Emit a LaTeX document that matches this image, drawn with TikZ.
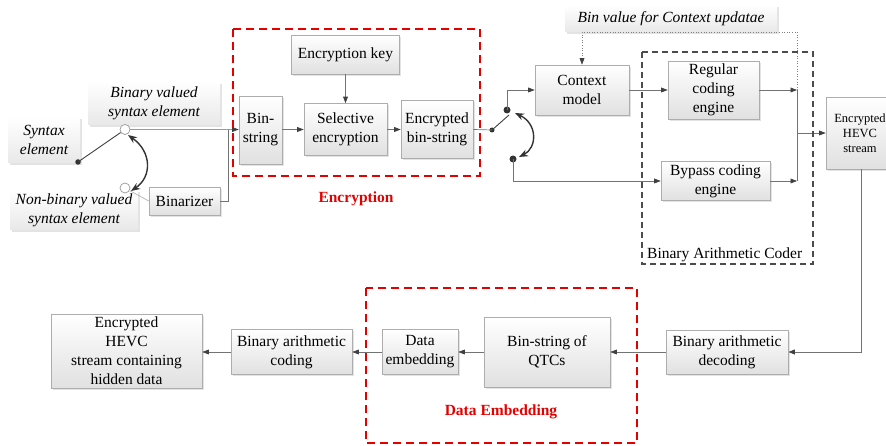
\documentclass[tikz,border=0pt]{standalone}
\usepackage{fontspec}
\setmainfont{Liberation Serif}
\usetikzlibrary{arrows.meta,shadows}

\begin{document}
\begin{tikzpicture}[x=1pt,y=-1pt,
  font=\fontsize{15.5}{19}\selectfont,
  sz/.style 2 args={minimum width=#1pt, minimum height=#2pt},
  shade/.style={drop shadow={shadow xshift=1.6pt, shadow yshift=-1.6pt, opacity=0.2, fill=black!55}},
  blk/.style={draw=black!32, line width=0.6pt, top color=white, bottom color=black!12,
    align=center, inner sep=0pt, shade},
  tag/.style={top color=white, bottom color=black!9, align=center, inner sep=0pt,
    font=\fontsize{15.5}{19}\selectfont\itshape, shade},
  tip/.style={-{Triangle[length=6.5pt,width=4.8pt,color=black!75]}},
  wire/.style={draw=black!55, line width=0.7pt},
  arr/.style={wire, tip},
  dots/.style={draw=black!50, line width=0.6pt, dotted},
  swing/.style={draw=black!80, line width=1.4pt,
    {Stealth[length=9pt,width=7pt]}-{Stealth[length=9pt,width=7pt]}},
  pin/.style={circle, fill=black!80, inner sep=0pt, minimum size=#1pt},
  ring/.style={circle, draw=black!40, line width=0.7pt, fill=white, inner sep=0pt, minimum size=10pt},
  redframe/.style={draw=red!90!black, line width=1.5pt, dash pattern=on 8pt off 5pt},
  grayframe/.style={draw=black!70, line width=1.1pt, dash pattern=on 6pt off 4pt},
  redlabel/.style={text=red!90!black, font=\fontsize{15.5}{19}\selectfont\bfseries}
]
\useasboundingbox (0,0) rectangle (886,446);

% ---------- syntax element inputs ----------
\node[tag, sz={72}{46}] (synt) at (44,140) {Syntax\\element};
\node[tag, sz={132}{43}] (binv) at (154,103.5) {Binary valued\\syntax element};
\node[tag, sz={128}{40}] (nonb) at (74,210) {Non-binary valued\\syntax element};
\node[blk, sz={71}{28}] (binz) at (184.5,201) {Binarizer};

\node[pin=5.5] (sdot) at (78,162) {};
\node[ring] (cb) at (125,129.5) {};
\node[ring] (cn) at (125,188) {};
\coordinate (ca) at (128,135);
\coordinate (cz) at (131,191);
\coordinate (j1) at (228,129.5);

\draw[draw=black!75, line width=0.9pt] (sdot.center) -- (cb);
\draw[swing] (ca) .. controls (152,152) and (152,177) .. (cz);
\draw[wire, draw=black!30] (cn) -- (binz.west);

% ---------- encryption stage ----------
\node[blk, sz={43}{68}] (bins) at (260.5,130) {Bin-\\string};
\node[blk, sz={83}{52}] (selc) at (345.5,129.5) {Selective\\encryption};
\node[blk, sz={108}{39}] (ekey) at (345.5,54.5) {Encryption key};
\node[blk, sz={72}{58}] (encb) at (437,129.5) {Encrypted\\bin-string};

\draw[wire] (binz.east) -| (j1);
\draw[arr, draw=black!40] (cb.east) -- (cb.east -| bins.west);
\draw[arr] (bins.east |- selc.west) -- (selc.west);
\draw[arr] (selc.east) -- (encb.west);
\draw[arr] (ekey.south) -- (selc.north);

\draw[redframe] (233,29) rectangle (480,176);
\node[redlabel] (enclab) at (356,199) {Encryption};

% ---------- bin switch ----------
\node[pin=5] (sw0) at (492,130) {};
\node[pin=7] (sw1) at (507,110) {};
\node[pin=7] (sw2) at (513,159) {};
\coordinate (blade) at (509,115);
\coordinate (sa) at (515,113);
\coordinate (sb) at (519,157);

\draw[wire] (encb.east) -- (sw0.center);
\draw[draw=black!75, line width=0.9pt] (sw0.center) -- (blade);
\draw[swing] (sa) .. controls (538,124) and (537,148) .. (sb);

% ---------- binary arithmetic coder ----------
\node[blk, sz={94}{50}] (ctx) at (582,90) {Context\\model};
\node[blk, sz={91}{58}] (reg) at (713.5,90) {Regular\\coding\\engine};
\node[blk, sz={109}{39}] (byp) at (715.5,181) {Bypass coding\\engine};
\node[tag, sz={212}{27}] (bv) at (671,18.5) {Bin value for Context updatae};
\node[blk, sz={68}{72}, font=\fontsize{12.5}{15}\selectfont] (hevc) at (860,133) {Encrypted\\HEVC\\stream};

\coordinate (m1) at (797,90);
\coordinate (m2) at (797,181);
\coordinate (m3) at (797,133);
\coordinate (d1) at (797,32);

\draw[arr] (sw1.center) |- (ctx.west);
\draw[arr] (sw2.center) |- (byp.west);
\draw[arr] (ctx.east) -- (reg.west);
\draw[arr] (reg.east) -- (m1);
\draw[arr] (byp.east) -- (m2);
\draw[wire] (m1) -- (m2);
\draw[arr] (m3) -- (hevc.west);
\draw[dots, tip] (m1) -- (d1) -| (ctx.north);

\draw[grayframe] (642,52) rectangle (813,264);
\node[anchor=south west, inner sep=0pt] (baclab) at (647,262) {Binary Arithmetic Coder};

% ---------- decoding and data embedding ----------
\node[blk, sz={122}{44}] (dec) at (727,352) {Binary arithmetic\\decoding};
\node[blk, sz={126}{70}] (qtc) at (547,352) {Bin-string of\\QTCs};
\node[blk, sz={76}{45}] (demb) at (420,352) {Data\\embedding};
\node[blk, sz={121}{45}] (bac) at (291.5,352) {Binary arithmetic\\coding};
\node[blk, sz={151}{74}] (outs) at (126.5,351) {Encrypted\\HEVC\\stream containing\\hidden data};

\coordinate (c1) at (861,352);
\draw[arr, line width=1pt] (hevc.south -| c1) -- (c1) -- (dec.east);
\draw[arr] (dec.west) -- (qtc.east);
\draw[arr] (qtc.west) -- (demb.east);
\draw[arr] (demb.west) -- (bac.east);
\draw[arr] (bac.west) -- (outs.east |- bac.west);

\draw[redframe] (366,288) rectangle (637,443);
\node[redlabel] (emblab) at (501,412) {Data Embedding};
\end{tikzpicture}
\end{document}
